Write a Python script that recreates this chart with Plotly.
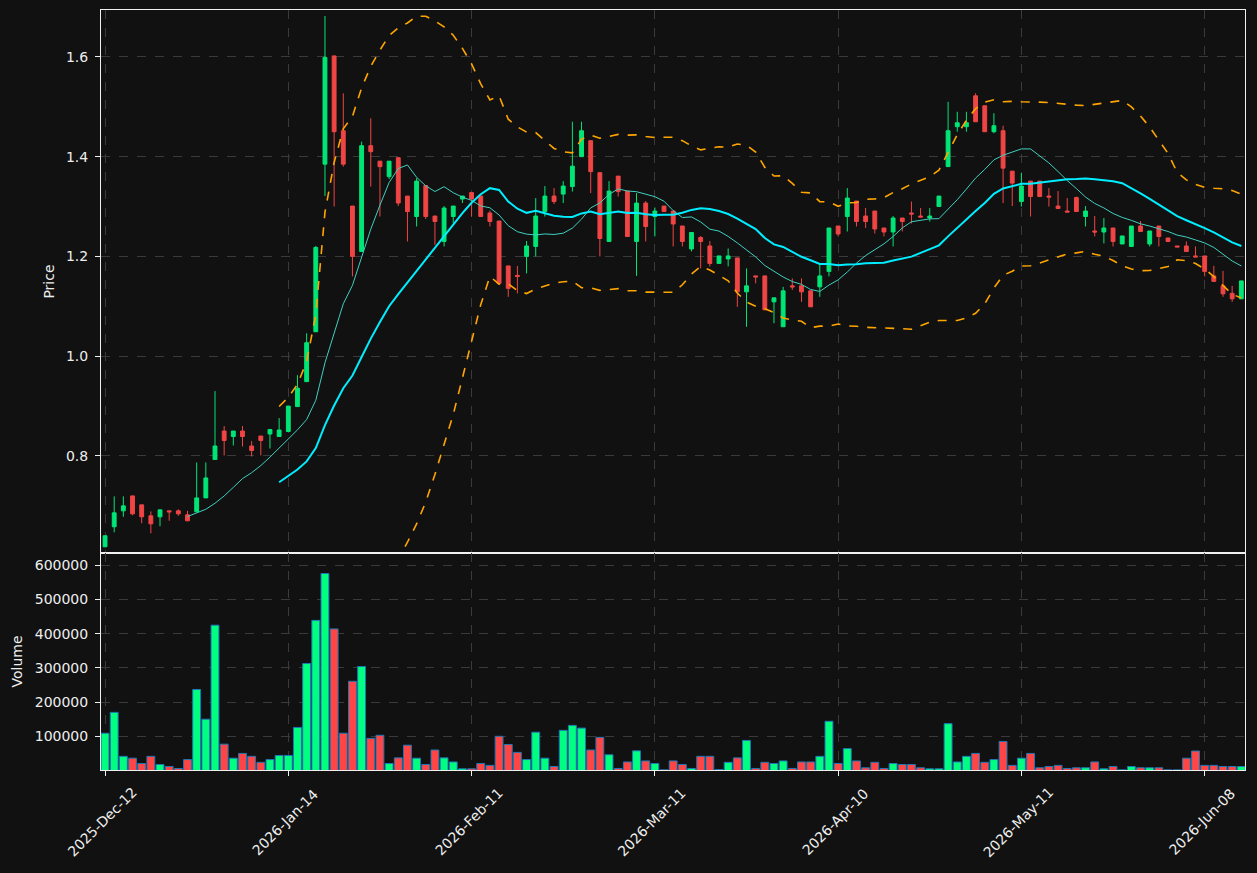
import plotly.graph_objects as go
import pandas as pd

tick_index = [0, 20, 40, 60, 80, 100, 120]
tick_labels = ["2025-Dec-12", "2026-Jan-14", "2026-Feb-11", "2026-Mar-11",
               "2026-Apr-10", "2026-May-11", "2026-Jun-08"]

opens = [0.618, 0.658, 0.690, 0.720, 0.702, 0.680, 0.678, 0.690, 0.690, 0.682,
         0.688, 0.716, 0.793, 0.850, 0.839, 0.850, 0.820, 0.840, 0.844, 0.839,
         0.849, 0.899, 0.949, 1.049, 1.385, 1.602, 1.452, 1.301, 1.210, 1.422,
         1.391, 1.360, 1.398, 1.321, 1.280, 1.342, 1.281, 1.230, 1.280, 1.315,
         1.328, 1.321, 1.287, 1.271, 1.181, 1.162, 1.200, 1.220, 1.290, 1.321,
         1.325, 1.340, 1.400, 1.432, 1.368, 1.230, 1.361, 1.331, 1.230, 1.307,
         1.280, 1.301, 1.291, 1.261, 1.215, 1.238, 1.221, 1.186, 1.195, 1.197,
         1.129, 1.161, 1.161, 1.109, 1.059, 1.141, 1.141, 1.131, 1.139, 1.170,
         1.261, 1.280, 1.311, 1.281, 1.291, 1.257, 1.249, 1.277, 1.287, 1.281,
         1.277, 1.300, 1.380, 1.460, 1.460, 1.522, 1.502, 1.450, 1.452, 1.371,
         1.310, 1.351, 1.351, 1.321, 1.301, 1.291, 1.318, 1.280, 1.251, 1.249,
         1.257, 1.225, 1.220, 1.261, 1.225, 1.261, 1.237, 1.221, 1.221, 1.201,
         1.201, 1.161, 1.141, 1.126, 1.115]
highs = [0.641, 0.719, 0.719, 0.720, 0.702, 0.689, 0.692, 0.690, 0.693, 0.690,
         0.787, 0.787, 0.930, 0.860, 0.850, 0.860, 0.830, 0.840, 0.853, 0.876,
         0.900, 0.962, 1.046, 1.221, 1.682, 1.602, 1.527, 1.301, 1.430, 1.477,
         1.391, 1.391, 1.398, 1.321, 1.357, 1.342, 1.281, 1.301, 1.301, 1.321,
         1.328, 1.321, 1.292, 1.271, 1.181, 1.181, 1.231, 1.317, 1.341, 1.337,
         1.351, 1.470, 1.470, 1.432, 1.368, 1.351, 1.361, 1.331, 1.327, 1.311,
         1.298, 1.301, 1.291, 1.261, 1.248, 1.241, 1.231, 1.201, 1.216, 1.197,
         1.176, 1.161, 1.161, 1.117, 1.139, 1.156, 1.156, 1.131, 1.186, 1.257,
         1.261, 1.337, 1.311, 1.297, 1.291, 1.257, 1.281, 1.277, 1.310, 1.297,
         1.297, 1.321, 1.510, 1.490, 1.490, 1.527, 1.502, 1.487, 1.462, 1.371,
         1.367, 1.351, 1.351, 1.337, 1.331, 1.317, 1.320, 1.301, 1.281, 1.277,
         1.257, 1.241, 1.261, 1.271, 1.251, 1.261, 1.237, 1.221, 1.230, 1.220,
         1.201, 1.181, 1.171, 1.141, 1.151]
lows = [0.617, 0.647, 0.678, 0.681, 0.665, 0.645, 0.659, 0.670, 0.680, 0.670,
        0.688, 0.716, 0.793, 0.801, 0.821, 0.819, 0.799, 0.801, 0.815, 0.839,
        0.849, 0.899, 0.949, 1.049, 1.321, 1.300, 1.380, 1.160, 1.210, 1.340,
        1.280, 1.355, 1.301, 1.230, 1.260, 1.275, 1.223, 1.220, 1.267, 1.307,
        1.280, 1.280, 1.260, 1.146, 1.119, 1.126, 1.166, 1.200, 1.280, 1.305,
        1.307, 1.330, 1.400, 1.327, 1.200, 1.230, 1.320, 1.240, 1.161, 1.230,
        1.240, 1.290, 1.220, 1.220, 1.210, 1.176, 1.180, 1.186, 1.180, 1.099,
        1.059, 1.146, 1.093, 1.066, 1.059, 1.133, 1.109, 1.099, 1.119, 1.160,
        1.240, 1.250, 1.260, 1.257, 1.246, 1.240, 1.220, 1.250, 1.266, 1.279,
        1.270, 1.300, 1.380, 1.450, 1.450, 1.470, 1.450, 1.447, 1.307, 1.301,
        1.300, 1.280, 1.320, 1.300, 1.296, 1.289, 1.290, 1.260, 1.240, 1.226,
        1.220, 1.225, 1.220, 1.250, 1.220, 1.220, 1.230, 1.219, 1.210, 1.199,
        1.160, 1.150, 1.119, 1.109, 1.115]
closes = [0.640, 0.686, 0.700, 0.684, 0.678, 0.664, 0.692, 0.688, 0.684, 0.670,
          0.716, 0.756, 0.820, 0.831, 0.850, 0.839, 0.811, 0.831, 0.853, 0.852,
          0.900, 0.936, 1.027, 1.218, 1.599, 1.450, 1.385, 1.200, 1.422, 1.410,
          1.380, 1.391, 1.307, 1.290, 1.351, 1.280, 1.270, 1.297, 1.301, 1.321,
          1.315, 1.280, 1.270, 1.146, 1.136, 1.160, 1.221, 1.281, 1.321, 1.310,
          1.341, 1.381, 1.452, 1.370, 1.236, 1.331, 1.330, 1.240, 1.307, 1.260,
          1.291, 1.290, 1.265, 1.230, 1.248, 1.230, 1.186, 1.201, 1.201, 1.129,
          1.141, 1.159, 1.093, 1.117, 1.131, 1.139, 1.129, 1.099, 1.161, 1.257,
          1.245, 1.317, 1.270, 1.270, 1.255, 1.249, 1.277, 1.270, 1.285, 1.279,
          1.281, 1.321, 1.452, 1.468, 1.468, 1.470, 1.450, 1.462, 1.377, 1.347,
          1.341, 1.320, 1.320, 1.319, 1.296, 1.289, 1.290, 1.291, 1.249, 1.257,
          1.230, 1.241, 1.261, 1.250, 1.251, 1.240, 1.230, 1.219, 1.210, 1.199,
          1.170, 1.150, 1.125, 1.115, 1.151]
volumes = [109000, 170000, 41500, 36000, 20500, 41500, 17600, 11700, 5900, 32000,
           237000, 150000, 425000, 77000, 36000, 50000, 41500, 24000, 32000, 44000,
           44000, 126000, 313000, 439000, 576000, 414000, 109000, 261000, 304000, 94000,
           103000, 20500, 37000, 74000, 36000, 17600, 60000, 37000, 25000, 5000,
           5000, 20500, 15000, 100000, 76000, 53000, 32000, 112000, 36000, 11700,
           117500, 132000, 124000, 60000, 97000, 46000, 6000, 25000, 57500, 28000,
           20500, 2000, 28000, 17600, 6000, 41500, 41500, 3000, 24000, 37000,
           88000, 6000, 24000, 20500, 28000, 6000, 25000, 25000, 41500, 144000,
           20500, 64000, 28000, 8000, 24000, 6000, 20500, 17600, 17600, 8000,
           5000, 5000, 137000, 25000, 41500, 50000, 24000, 32000, 85000, 15000,
           36000, 50000, 8000, 11700, 15000, 6000, 8000, 8000, 25000, 5000,
           11700, 2000, 11700, 8000, 8000, 8000, 2000, 2000, 36000, 57000,
           15000, 15000, 11700, 11700, 11700]

x = list(range(len(closes)))
s = pd.Series(closes)
ma10 = s.rolling(10).mean()
ma20 = s.rolling(20).mean()
sd20 = s.rolling(20).std(ddof=0)
upper = ma20 + 2 * sd20
lower = ma20 - 2 * sd20

UP = "#00e676"
DN = "#f04545"
VUP = "#00ff80"
VDN = "#ff4545"
TXT = "#eeeeee"
vol_colors = [VUP if c >= o else VDN for o, c in zip(opens, closes)]

fig = go.Figure()
fig.add_trace(go.Candlestick(
    x=x, open=opens, high=highs, low=lows, close=closes,
    increasing=dict(line=dict(color=UP, width=1), fillcolor=UP),
    decreasing=dict(line=dict(color=DN, width=1), fillcolor=DN),
    whiskerwidth=0, xaxis="x", yaxis="y", showlegend=False))
fig.add_trace(go.Scatter(x=x, y=ma10, mode="lines", line=dict(color="#40d0c0", width=1),
                         xaxis="x", yaxis="y", showlegend=False))
fig.add_trace(go.Scatter(x=x, y=ma20, mode="lines", line=dict(color="#00eeff", width=2),
                         xaxis="x", yaxis="y", showlegend=False))
fig.add_trace(go.Scatter(x=x, y=upper, mode="lines",
                         line=dict(color="#ffa500", width=1.6, dash="dash"),
                         xaxis="x", yaxis="y", showlegend=False))
fig.add_trace(go.Scatter(x=x, y=lower, mode="lines",
                         line=dict(color="#ffa500", width=1.6, dash="dash"),
                         xaxis="x", yaxis="y", showlegend=False))
fig.add_trace(go.Bar(x=x, y=volumes, width=0.86, base=0,
                     marker=dict(color=vol_colors, line=dict(color="#1f77b4", width=1)),
                     xaxis="x2", yaxis="y2", showlegend=False))

grid = dict(showgrid=True, gridcolor="#3a3a3a", griddash="dash", gridwidth=1)
axis_common = dict(showline=True, mirror=True, linecolor="#f0f0f0", linewidth=1,
                   ticklen=5, tickcolor="#f0f0f0",
                   tickfont=dict(family="DejaVu Sans", color=TXT, size=14), zeroline=False)

xr = [-0.44, 124.4]
split = 217 / 760

annotations = [dict(x=xi, y=0, xref="x2", yref="paper", text=lab, textangle=-45,
                    showarrow=False, xanchor="center", yanchor="middle",
                    xshift=-3, yshift=-52, font=dict(family="DejaVu Sans", size=14, color=TXT))
               for xi, lab in zip(tick_index, tick_labels)]

fig.update_layout(
    width=1257, height=873,
    paper_bgcolor="#111111", plot_bgcolor="#111111",
    font=dict(family="DejaVu Sans", color=TXT, size=14),
    margin=dict(l=101, r=12, t=10, b=103),
    boxgap=0.4,
    annotations=annotations,
    xaxis=dict(domain=[0, 1], anchor="y", range=xr, tickvals=tick_index,
               ticks="", showticklabels=False, rangeslider=dict(visible=False),
               **grid, **axis_common),
    yaxis=dict(domain=[split, 1], anchor="x", range=[0.6055, 1.694], ticks="outside",
               tickvals=[0.8, 1.0, 1.2, 1.4, 1.6], tickformat=".1f", ticklabelstandoff=4,
               title=dict(text="Price", font=dict(family="DejaVu Sans", size=14, color=TXT),
                          standoff=8),
               **grid, **axis_common),
    xaxis2=dict(domain=[0, 1], anchor="y2", range=xr, tickvals=tick_index,
                ticks="outside", showticklabels=False, matches="x",
                **grid, **axis_common),
    yaxis2=dict(domain=[0, split], anchor="x2", range=[1500, 636000], ticks="outside",
                tickvals=[100000, 200000, 300000, 400000, 500000, 600000], tickformat="d",
                ticklabelstandoff=4,
                title=dict(text="Volume", font=dict(family="DejaVu Sans", size=14, color=TXT),
                           standoff=8),
                **grid, **axis_common),
)

fig.write_html("out.html")
